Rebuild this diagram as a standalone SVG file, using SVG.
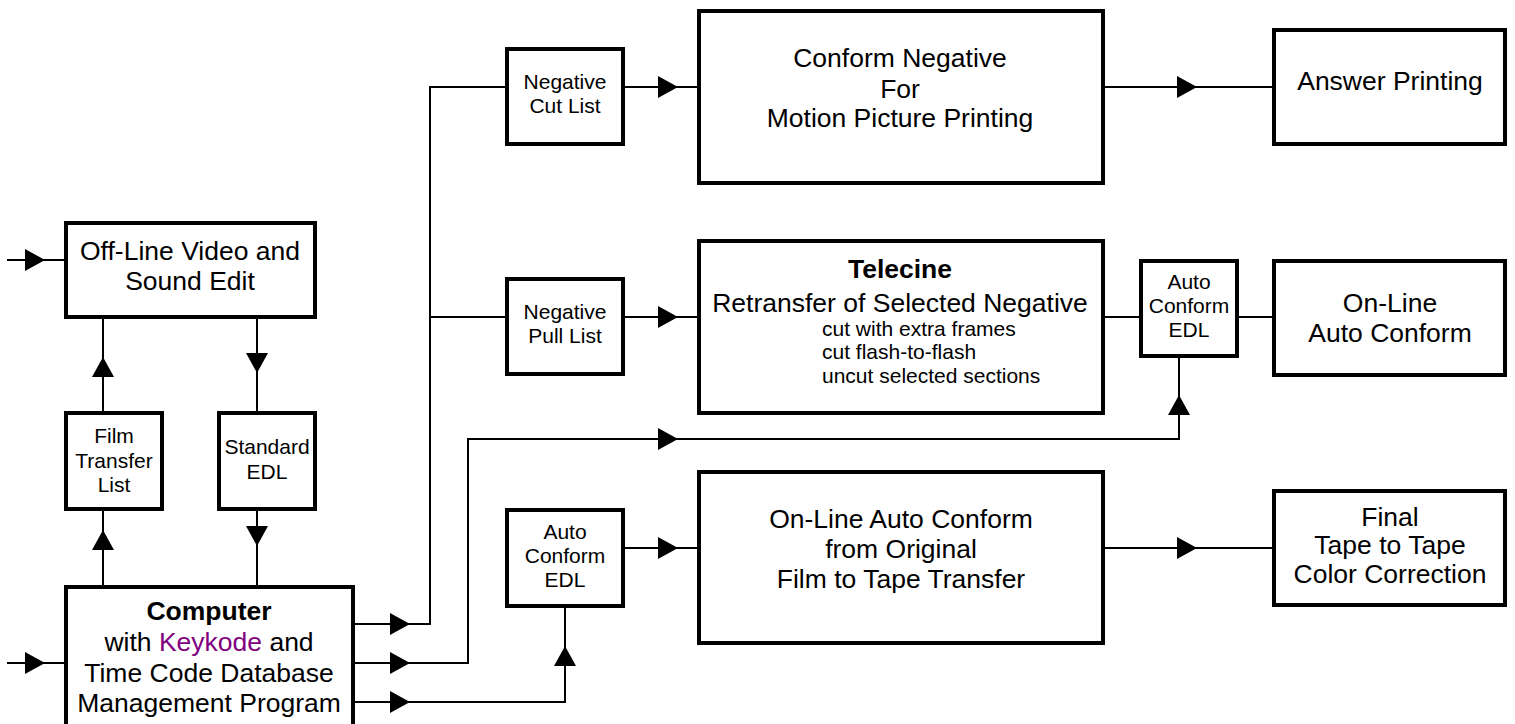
<svg xmlns="http://www.w3.org/2000/svg" xmlns:xlink="http://www.w3.org/1999/xlink" width="1515" height="724" viewBox="0 0 1515 724">
<style>
.box{fill:#fff;stroke:#000;stroke-width:4}
.ln{fill:none;stroke:#000;stroke-width:2}
text{font-family:"Liberation Sans",Arial,sans-serif;fill:#000}
.L{font-size:26.5px;text-anchor:middle}
.S{font-size:21px;text-anchor:middle}
.T{font-size:21px}
.b{font-weight:bold}
.kk{fill:#800080}
</style>
<defs>
<path id="ah" d="M-20,-11 L0,0 L-20,11 Z" fill="#000"/>
</defs>
<rect width="1515" height="724" fill="#fff"/>
<g id="connectors">
<path class="ln" d="M7,260 H65"/>
<path class="ln" d="M7,663 H65"/>
<path class="ln" d="M103,413 V317"/>
<path class="ln" d="M103,586 V509"/>
<path class="ln" d="M257,317 V413"/>
<path class="ln" d="M257,509 V586"/>
<path class="ln" d="M353,624 H430 V87 H506"/>
<path class="ln" d="M430,317 H506"/>
<path class="ln" d="M623,87 H698"/>
<path class="ln" d="M623,317 H698"/>
<path class="ln" d="M1103,87 H1274"/>
<path class="ln" d="M1103,317 H1140"/>
<path class="ln" d="M1237,317 H1274"/>
<path class="ln" d="M353,663 H468 V439 H1179 V356"/>
<path class="ln" d="M353,702 H565 V606"/>
<path class="ln" d="M623,548 H698"/>
<path class="ln" d="M1103,548 H1274"/>
<use xlink:href="#ah" transform="translate(45,260)"/>
<use xlink:href="#ah" transform="translate(45,663)"/>
<use xlink:href="#ah" transform="translate(410,624)"/>
<use xlink:href="#ah" transform="translate(410,663)"/>
<use xlink:href="#ah" transform="translate(410,702)"/>
<use xlink:href="#ah" transform="translate(678,87)"/>
<use xlink:href="#ah" transform="translate(678,317)"/>
<use xlink:href="#ah" transform="translate(678,439)"/>
<use xlink:href="#ah" transform="translate(678,548)"/>
<use xlink:href="#ah" transform="translate(1197,87)"/>
<use xlink:href="#ah" transform="translate(1197,548)"/>
<use xlink:href="#ah" transform="translate(103,357) rotate(-90)"/>
<use xlink:href="#ah" transform="translate(103,530) rotate(-90)"/>
<use xlink:href="#ah" transform="translate(1179,395) rotate(-90)"/>
<use xlink:href="#ah" transform="translate(565,646) rotate(-90)"/>
<use xlink:href="#ah" transform="translate(257,373) rotate(90)"/>
<use xlink:href="#ah" transform="translate(257,546) rotate(90)"/>
</g>
<g id="offline">
<rect class="box" x="66" y="223" width="249" height="94"/>
<text class="L" x="190" y="260">Off-Line Video and</text>
<text class="L" x="190" y="290">Sound Edit</text>
</g>
<g id="filmtransfer">
<rect class="box" x="66" y="413" width="96" height="96"/>
<text class="S" x="114" y="443">Film</text>
<text class="S" x="114" y="468">Transfer</text>
<text class="S" x="114" y="492">List</text>
</g>
<g id="standardedl">
<rect class="box" x="219" y="413" width="96" height="96"/>
<text class="S" x="267" y="454">Standard</text>
<text class="S" x="267" y="479">EDL</text>
</g>
<g id="computer">
<rect class="box" x="66" y="587" width="287" height="160"/>
<text class="L b" x="209" y="620">Computer</text>
<text class="L" x="209" y="651">with <tspan class="kk">Keykode</tspan> and</text>
<text class="L" x="209" y="682">Time Code Database</text>
<text class="L" x="209" y="712">Management Program</text>
</g>
<g id="negcut">
<rect class="box" x="507" y="49" width="116" height="95"/>
<text class="S" x="565" y="89">Negative</text>
<text class="S" x="565" y="113">Cut List</text>
</g>
<g id="negpull">
<rect class="box" x="507" y="279" width="116" height="95"/>
<text class="S" x="565" y="319">Negative</text>
<text class="S" x="565" y="343">Pull List</text>
</g>
<g id="autoedl1">
<rect class="box" x="507" y="510" width="116" height="96"/>
<text class="S" x="565" y="539">Auto</text>
<text class="S" x="565" y="563">Conform</text>
<text class="S" x="565" y="587">EDL</text>
</g>
<g id="conformneg">
<rect class="box" x="699" y="11" width="404" height="172"/>
<text class="L" x="900" y="67">Conform Negative</text>
<text class="L" x="900" y="98">For</text>
<text class="L" x="900" y="127">Motion Picture Printing</text>
</g>
<g id="telecine">
<rect class="box" x="699" y="241" width="404" height="172"/>
<text class="L b" x="900" y="278">Telecine</text>
<text class="L" x="900" y="312">Retransfer of Selected Negative</text>
<text class="T" x="822" y="336">cut with extra frames</text>
<text class="T" x="822" y="359">cut flash-to-flash</text>
<text class="T" x="822" y="383">uncut selected sections</text>
</g>
<g id="onlineorig">
<rect class="box" x="699" y="472" width="404" height="171"/>
<text class="L" x="901" y="528">On-Line Auto Conform</text>
<text class="L" x="901" y="558">from Original</text>
<text class="L" x="901" y="588">Film to Tape Transfer</text>
</g>
<g id="autoedl2">
<rect class="box" x="1141" y="261" width="96" height="95"/>
<text class="S" x="1189" y="289">Auto</text>
<text class="S" x="1189" y="313">Conform</text>
<text class="S" x="1189" y="337">EDL</text>
</g>
<g id="answer">
<rect class="box" x="1274" y="30" width="231" height="114"/>
<text class="L" x="1390" y="90">Answer Printing</text>
</g>
<g id="onlineauto">
<rect class="box" x="1274" y="261" width="231" height="114"/>
<text class="L" x="1390" y="312">On-Line</text>
<text class="L" x="1390" y="342">Auto Conform</text>
</g>
<g id="final">
<rect class="box" x="1274" y="491" width="231" height="114"/>
<text class="L" x="1390" y="526">Final</text>
<text class="L" x="1390" y="554">Tape to Tape</text>
<text class="L" x="1390" y="583">Color Correction</text>
</g>
</svg>
